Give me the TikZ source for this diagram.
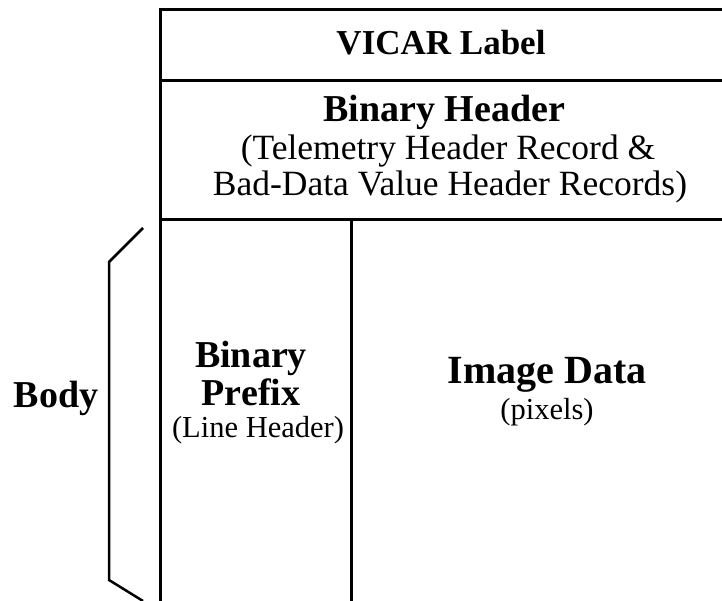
\documentclass[tikz,border=0pt]{standalone}
\usepackage{fontspec}
\setmainfont{Liberation Serif}
\begin{document}
\begin{tikzpicture}[x=1pt,y=-1pt,
  boxline/.style={line width=3pt},
  bracketline/.style={line width=2.5pt, line join=miter},
  bigbold/.style={font=\fontsize{38}{44}\selectfont\bfseries, anchor=base, inner sep=0pt},
  midbold/.style={font=\fontsize{35}{40}\selectfont\bfseries, anchor=base, inner sep=0pt},
  plaintxt/.style={font=\fontsize{35.5}{40}\selectfont, anchor=base, inner sep=0pt},
  smalltxt/.style={font=\fontsize{30.5}{36}\selectfont, anchor=base, inner sep=0pt}]
\useasboundingbox (0,0) rectangle (722,601);
% frame
\coordinate (tl) at (160,10);
\coordinate (tr) at (722,10);
\coordinate (bl) at (160,601);
\coordinate (h1l) at (160,81);
\coordinate (h1r) at (722,81);
\coordinate (h2l) at (160,220);
\coordinate (h2r) at (722,220);
\coordinate (vt) at (351,220);
\coordinate (vb) at (351,601);
\draw[boxline] (bl) -- (tl) -- (tr);
\draw[boxline] (h1l) -- (h1r);
\draw[boxline] (h2l) -- (h2r);
\draw[boxline] (vt) -- (vb);
% bracket
\coordinate (b1) at (143,228);
\coordinate (b2) at (109,262);
\coordinate (b3) at (109,580);
\coordinate (b4) at (143,601);
\draw[bracketline] (b1) -- (b2) -- (b3) -- (b4);
% texts
\node[midbold] (vicar) at (441,55) {VICAR Label};
\node[bigbold] (binhdr) at (444,122) {Binary Header};
\node[plaintxt] (telem) at (448,160) {(Telemetry Header Record \&};
\node[plaintxt] (baddata) at (450,196) {Bad-Data Value Header Records)};
\node[bigbold] (body) at (56,407) {Body};
\node[bigbold, text depth=6pt] (binary) at (251,367) {Binary};
\node[bigbold, text height=27pt] (prefix) at (251,405) {Prefix};
\node[smalltxt] (linehdr) at (258,437) {(Line Header)};
\node[font=\fontsize{40}{46}\selectfont\bfseries, anchor=base, inner sep=0pt] (imgdata) at (547,383) {Image Data};
\node[smalltxt] (pixels) at (547,419) {(pixels)};
\end{tikzpicture}
\end{document}
